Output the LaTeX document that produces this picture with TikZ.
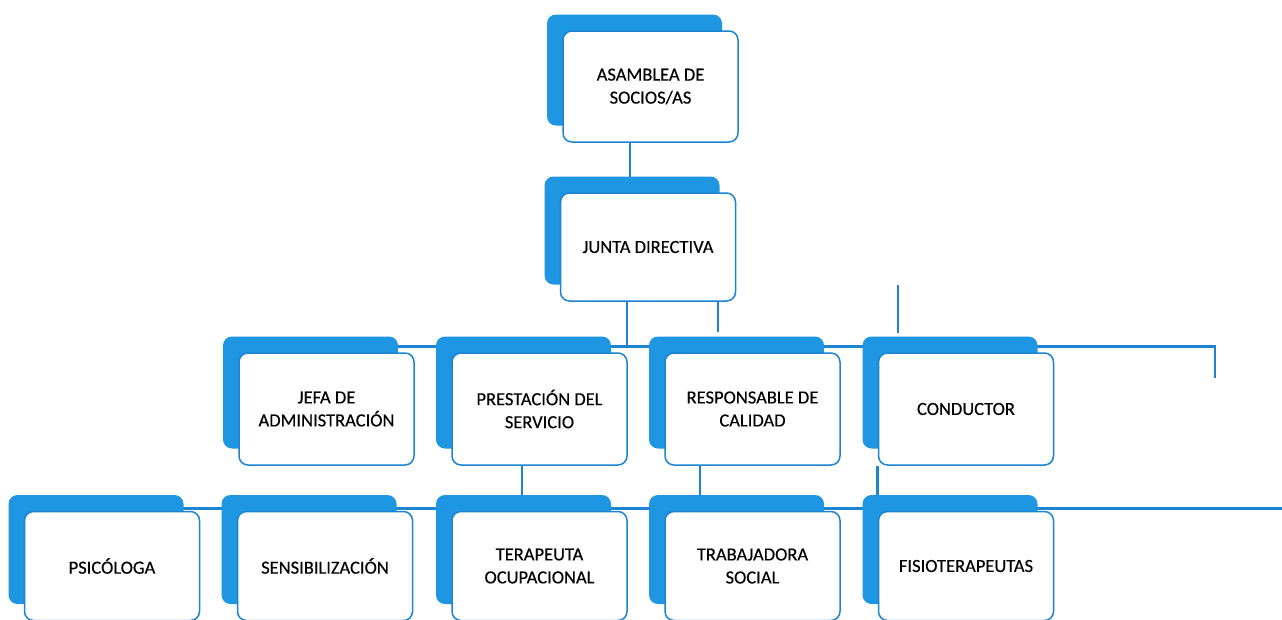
\documentclass[tikz,border=0pt]{standalone}
\usepackage{fontspec}
\setmainfont[FakeBold=0.3]{Carlito}
\usetikzlibrary{shadows,backgrounds}
\definecolor{shblue}{RGB}{30,150,225}
\definecolor{lnblue}{RGB}{28,132,208}
\begin{document}
\begin{tikzpicture}[x=1pt,y=-1pt,
  box/.style={draw=lnblue, line width=1.5pt, fill=white, rounded corners=9pt,
    minimum width=175pt, minimum height=112pt, align=center, inner sep=0pt,
    font=\fontsize{18.5}{23}\selectfont, text=black,
    general shadow={fill=shblue, shadow xshift=-16pt, shadow yshift=16.5pt}},
  conn/.style={draw=lnblue, line width=2.6pt}]
\useasboundingbox (0,0) rectangle (1282,619);
% nodes
\node[box, minimum height=111pt] (asamblea) at (650.5,86.5) {ASAMBLEA DE\\SOCIOS/AS};
\node[box, minimum height=108pt] (junta) at (648,247) {JUNTA DIRECTIVA};
\node[box] (jefa)  at (326.5,409) {JEFA DE\\ADMINISTRACIÓN};
\node[box] (prest) at (539.5,409) {PRESTACIÓN DEL\\SERVICIO};
\node[box] (resp)  at (752.5,409) {RESPONSABLE DE\\CALIDAD};
\node[box] (cond)  at (966,409)   {CONDUCTOR};
\node[box, minimum height=109pt] (psic)  at (112,566)   {PSICÓLOGA};
\node[box, minimum height=109pt] (sens)  at (325,566)   {SENSIBILIZACIÓN};
\node[box, minimum height=109pt] (terap) at (539.5,566) {TERAPEUTA\\OCUPACIONAL};
\node[box, minimum height=109pt] (trab)  at (752.5,566) {TRABAJADORA\\SOCIAL};
\node[box, minimum height=109pt] (fisio) at (966,566)   {FISIOTERAPEUTAS};
% free coordinates
\coordinate (r2) at (0,346.5);
\coordinate (r3) at (0,508.5);
\coordinate (condEnd) at (1215,378);
\coordinate (j2) at (718,332);
\coordinate (v1top) at (898,285);
\coordinate (v1bot) at (898,333);
\coordinate (r3end) at (1282,508.5);
% connectors
\begin{scope}[on background layer]
\draw[conn] ([xshift=-20.5pt]asamblea.south) -- ([xshift=-20.5pt]asamblea.south |- junta.north);
\draw[conn] ([xshift=-21pt]junta.south) -- ([xshift=-21pt]junta.south |- r2);
\draw[conn] (junta.south -| j2) -- (j2);
\draw[conn] (v1top) -- (v1bot);
\draw[conn] (jefa.center |- r2) -- (condEnd |- r2) -- (condEnd);
\draw[conn] ([xshift=-17.5pt]prest.south) -- ([xshift=-17.5pt]prest.south |- terap.north);
\draw[conn] ([xshift=-52.5pt]resp.south) -- ([xshift=-52.5pt]resp.south |- trab.north);
\draw[conn] (cond.south west) -- (cond.south west |- fisio.north);
\draw[conn] (psic.center |- r3) -- (r3end);
\end{scope}
\end{tikzpicture}
\end{document}
